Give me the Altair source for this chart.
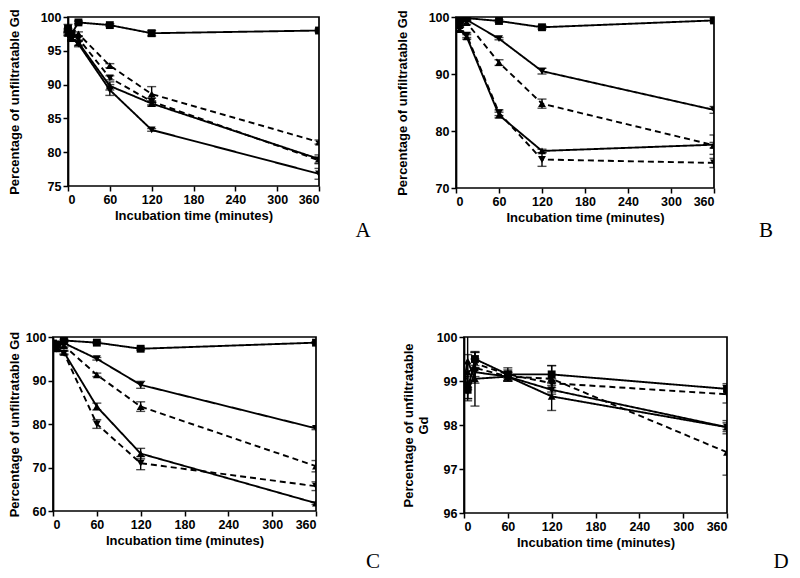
import altair as alt
import pandas as pd

TIMES = [0, 5, 15, 60, 120, 360]
SERIES = ["sq_solid", "down_solid", "up_solid", "down_dashed", "up_dashed"]
SHAPES = ["square", "triangle-down", "triangle-up", "triangle-down", "triangle-up"]
DASHES = ["solid", "solid", "solid", "dashed", "dashed"]

# Panel A
A_vals = [
    [98.3, 97.5, 99.2, 98.8, 97.6, 98.0],
    [98.0, 97.0, 96.0, 89.2, 83.3, 76.8],
    [97.8, 96.8, 96.2, 89.8, 87.2, 79.0],
    [97.5, 96.8, 96.8, 91.0, 87.5, 78.8],
    [97.6, 96.9, 97.5, 92.8, 88.6, 81.5],
]
A_err = [
    [0.6, 0.5, 0.2, 0.2, 0.4, 0.2],
    [0.3, 0.4, 0.4, 0.8, 0.2, 0.8],
    [0.3, 0.4, 0.4, 0.6, 0.4, 0.6],
    [0.3, 0.3, 0.3, 0.3, 0.5, 0.5],
    [0.3, 0.3, 0.3, 0.3, 1.1, 0.3],
]
# Panel B
B_vals = [
    [99.5, 99.3, 99.8, 99.3, 98.2, 99.4],
    [99.3, 98.8, 99.5, 96.2, 90.5, 83.7],
    [99.0, 97.8, 96.5, 82.8, 76.5, 77.6],
    [99.0, 98.0, 96.8, 83.2, 75.0, 74.4],
    [99.2, 98.5, 99.0, 92.0, 84.8, 77.5],
]
B_err = [
    [0.2, 0.3, 0.2, 0.2, 0.3, 0.3],
    [0.2, 0.3, 0.2, 0.2, 0.5, 0.6],
    [0.2, 0.4, 0.4, 0.5, 0.3, 1.7],
    [0.2, 0.4, 0.4, 0.5, 1.2, 0.8],
    [0.2, 0.3, 0.3, 0.5, 0.8, 0.5],
]
# Panel C
C_vals = [
    [98.5, 98.3, 99.2, 98.7, 97.3, 98.7],
    [98.3, 97.8, 98.6, 95.0, 89.0, 79.0],
    [97.8, 97.3, 96.5, 84.0, 73.2, 61.8],
    [97.8, 97.2, 96.3, 80.0, 71.0, 65.7],
    [98.0, 97.6, 98.0, 91.3, 84.0, 70.3],
]
C_err = [
    [0.3, 0.3, 0.3, 0.2, 0.3, 0.2],
    [0.3, 0.3, 0.3, 0.3, 0.8, 0.3],
    [0.3, 0.3, 0.4, 0.8, 1.2, 0.3],
    [0.3, 0.3, 0.4, 1.0, 1.5, 1.0],
    [0.3, 0.3, 0.3, 0.4, 1.1, 1.3],
]
# Panel D
D_vals = [
    [98.9, 98.8, 99.5, 99.15, 99.15, 98.82],
    [98.9, 98.75, 99.2, 99.1, 98.8, 97.95],
    [99.0, 99.45, 99.05, 99.1, 98.65, 97.95],
    [99.0, 98.85, 99.4, 99.15, 98.95, 98.7],
    [99.0, 99.2, 99.3, 99.1, 99.05, 97.38],
]
D_err = [
    [0.15, 0.2, 0.15, 0.15, 0.2, 0.12],
    [0.1, 0.2, 0.1, 0.1, 0.1, 0.15],
    [0.1, 0.6, 0.62, 0.1, 0.32, 0.1],
    [0.1, 0.25, 0.1, 0.1, 0.1, 0.2],
    [0.1, 0.4, 0.35, 0.1, 0.3, 0.52],
]

Y_TITLE = "Percentage of unfiltratable Gd"
X_TITLE = "Incubation time (minutes)"
X_TICKS = [0, 60, 120, 180, 240, 300, 360]
FONT = "Liberation Sans"


def frame(vals, errs):
    rows = []
    for s, d, vs, es in zip(SERIES, DASHES, vals, errs):
        for t, v, e in zip(TIMES, vs, es):
            rows.append(dict(t=t, v=v, lo=v - e, hi=v + e, series=s, dash=d))
    return pd.DataFrame(rows)


def panel(vals, errs, ydom, yticks, ytitle, tpad, letter, lx, ly, w, h, xoff=0):
    df = frame(vals, errs)
    W = w + xoff
    xs = alt.Scale(domain=[0, 360], nice=False, zero=False, range=[xoff, W])
    ys = alt.Scale(domain=ydom, nice=False, zero=False)
    xax = alt.Axis(values=X_TICKS, title=X_TITLE, titlePadding=4, domain=False, labelOverlap=False)
    yax = alt.Axis(values=yticks, title=ytitle, titlePadding=tpad, offset=-xoff,
                   labelOverlap=False, tickCount=len(yticks))
    base = alt.Chart(df)
    x = alt.X("t:Q", scale=xs, axis=xax)
    y = alt.Y("v:Q", scale=ys, axis=yax)
    ylo = alt.Y("lo:Q", scale=ys, axis=yax)
    yhi = alt.Y("hi:Q", scale=ys, axis=yax)
    lines = base.mark_line(color="black", strokeWidth=1.9, clip=True).encode(
        x=x, y=y, detail="series:N",
        strokeDash=alt.StrokeDash("dash:N", scale=alt.Scale(domain=["solid", "dashed"], range=[[1, 0], [6, 4]]), legend=None),
    )
    pts = base.mark_point(filled=True, color="black", opacity=1, size=62, clip=True).encode(
        x=x, y=y,
        shape=alt.Shape("series:N", scale=alt.Scale(domain=SERIES, range=SHAPES), legend=None),
    )
    rules = base.mark_rule(color="black", strokeWidth=1.4, clip=True).encode(x=x, y=ylo, y2="hi:Q")
    tlo = base.mark_tick(color="black", orient="horizontal", size=9, thickness=1.4, clip=True).encode(x=x, y=ylo)
    thi = base.mark_tick(color="black", orient="horizontal", size=9, thickness=1.4, clip=True).encode(x=x, y=yhi)
    box = alt.Chart(pd.DataFrame({"k": [0]})).mark_rect(
        fill=None, fillOpacity=0, stroke="black", strokeWidth=1.7
    ).encode(x=alt.value(xoff), x2=alt.value(W), y=alt.value(0), y2=alt.value(h))
    lab = alt.Chart(pd.DataFrame({"l": [letter]})).mark_text(
        font="Liberation Serif", fontSize=21, color="black", align="center", baseline="middle"
    ).encode(text="l:N", x=alt.value(lx), y=alt.value(ly))
    return alt.layer(lines, pts, rules, tlo, thi, box, lab).properties(
        width=W, height=h, view=alt.ViewBackground(stroke=None)
    )


pA = panel(A_vals, A_err, [75, 100], [75, 80, 85, 90, 95, 100], Y_TITLE, 19, "A", 310, 214, 251, 169, xoff=15)
pB = panel(B_vals, B_err, [70, 100], [70, 80, 90, 100], Y_TITLE, 19, "B", 310, 214, 258, 171)
pC = panel(C_vals, C_err, [60, 100], [60, 70, 80, 90, 100], Y_TITLE, 4, "C", 320, 225, 263, 174)
pD = panel(D_vals, D_err, [96, 100], [96, 97, 98, 99, 100], ["Percentage of unfiltratable", "Gd"], 6, "D", 317, 225, 263, 176)

row1 = alt.hconcat(pA, pB, spacing=25)
row2 = alt.hconcat(pC, pD, spacing=21)
chart = alt.vconcat(row1, row2, spacing=90).properties(
    padding={"left": 0, "top": 0, "right": 0, "bottom": 0}
).configure_view(
    stroke=None
).configure_axis(
    labelFont=FONT, labelFontWeight="bold", labelFontSize=12.5, labelColor="black",
    titleFont=FONT, titleFontWeight="bold", titleFontSize=13, titleColor="black",
    domainColor="black", domainWidth=1.7, tickColor="black", tickWidth=1.5, tickSize=5,
    labelPadding=2, grid=False,
)

chart.save("out.html", embed_options={"renderer": "svg", "actions": False})
